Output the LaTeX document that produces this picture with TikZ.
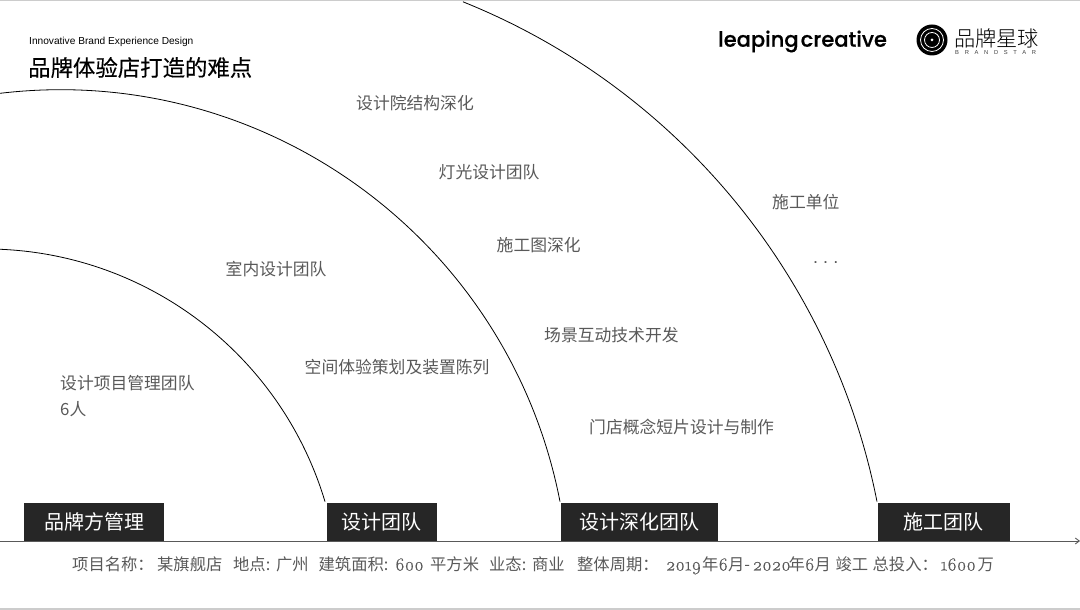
\documentclass[tikz,border=0pt]{standalone}
\usepackage{fontspec}
\setmainfont{Noto Sans CJK SC}
\newfontfamily\cjklight{Noto Sans CJK SC Light}
\newfontfamily\latinfont{Liberation Sans}
\newfontfamily\logofont{Poppins Medium}
\newfontfamily\digitfont[Numbers=OldStyle,FakeBold=0.5,Scale=1.12]{Latin Modern Roman}
\usetikzlibrary{arrows.meta}
\definecolor{teamBack}{HTML}{262626}
\definecolor{labelGray}{HTML}{595959}
\definecolor{frameGray}{HTML}{CCCCCC}
\newcommand{\dg}[1]{{\digitfont #1}}
\newcommand{\seg}[2]{\makebox[#1pt][l]{#2}}

\begin{document}
\begin{tikzpicture}[x=1pt,y=1pt, >={Straight Barb[length=4pt,width=6pt]},
  team/.style={fill=teamBack,text=white,inner sep=0pt,anchor=south west,minimum height=38pt,font=\fontsize{20}{24}\selectfont},
  label/.style={text=labelGray,anchor=west,inner sep=0pt,font=\fontsize{16.8}{20}\selectfont},
  curve/.style={draw=black,line width=.8pt}]
\useasboundingbox (0,0) rectangle (1080,610);
\draw[frameGray,line width=1.2pt] (0,610)--(1080,610);
\draw[frameGray,line width=1.2pt] (0,1)--(1080,1);

% header
\node[anchor=west,inner sep=0pt,font=\latinfont\fontsize{10.15}{12}\selectfont] (subtitle) at (29,568.5) {Innovative Brand Experience Design};
\node[anchor=west,inner sep=0pt,font=\fontsize{22.4}{26}\selectfont] (title) at (28,542.5) {\addfontfeature{FakeBold=0.3}品牌体验店打造的难点};
\node[anchor=west,inner sep=0pt,font=\logofont\fontsize{21}{26}\selectfont] (leaping) at (718,568.5) {\addfontfeature{FakeBold=0.5}leaping\hspace{.1em}creative};
\fill (932,570) circle (15.5);
\draw[white,line width=.8pt] (932,570) circle (11.5);
\draw[white,line width=.8pt] (932,570) circle (7.5);
\fill[white] (932,570) circle (1.5);
\node[anchor=west,inner sep=0pt,font=\cjklight\fontsize{21.2}{24}\selectfont] (star) at (954,572) {品牌星球};
\node[anchor=west,inner sep=0pt,text=black!75,font=\latinfont\fontsize{5.8}{7}\selectfont] (starEn) at (955,557.5) {\addfontfeature{LetterSpace=98}BRANDSTAR};

% teams
\node[team,minimum width=140pt] (brand) at (24,69) {品牌方管理};
\node[team,minimum width=110pt] (design) at (326.5,69) {设计团队};
\node[team,minimum width=157pt] (deepen) at (561,69) {设计深化团队};
\node[team,minimum width=132pt] (build) at (877.5,69) {施工团队};

% axis
\coordinate (axisL) at (0,69);
\coordinate (axisR) at (1080,69);
\draw[->,color=labelGray,line width=.9pt] (axisL)--(axisR);

% arcs
\draw[curve] (design.north west) ++(-1.5,1) arc[start angle=16.7,end angle=88.2,radius=354.5pt];
\draw[curve] (deepen.north west) ++(-1,1) arc[start angle=11,end angle=96.8,radius=509pt];
\draw[curve] (build.north west) ++(-.5,1) arc[start angle=11.18,end angle=68.1,radius=681pt];

% labels
\node[label,align=left,font=\fontsize{16.8}{26.5}\selectfont] (manage) at (60,214) {设计项目管理团队\\6人};
\node[label] (interior) at (225.5,341) {室内设计团队};
\node[label] (space) at (304.5,243) {空间体验策划及装置陈列};
\node[label] (institute) at (356,507) {设计院结构深化};
\node[label] (light) at (438.5,438) {灯光设计团队};
\node[label] (drawing) at (496.5,365) {施工图深化};
\node[label] (scene) at (544,275) {场景互动技术开发};
\node[label] (film) at (589,183) {门店概念短片设计与制作};
\node[label] (unit) at (772,408) {施工单位};
\node[label,font=\latinfont\fontsize{18}{20}\selectfont] (more) at (813,347) {.\hspace{.28em}.\hspace{.28em}.};

% project line
\node[anchor=west,inner sep=0pt,text=labelGray,font=\fontsize{16.3}{20}\selectfont] (project) at (72,44.5) {\seg{85}{项目名称：}\seg{76}{某旗舰店}\seg{43}{地点:}\seg{42.5}{广州}\seg{76.5}{建筑面积:}\seg{35}{\dg{600}}\seg{59}{平方米}\seg{43}{业态:}\seg{45}{商业}\seg{88.7}{整体周期：}\seg{36.3}{\dg{2019}}\seg{50.5}{年\dg{6}月-}\seg{36}{\dg{2020}}\seg{47}{年\dg{6}月}\seg{37}{竣工}\seg{68}{总投入：}\seg{37}{\dg{1600}}万};
\end{tikzpicture}
\end{document}
